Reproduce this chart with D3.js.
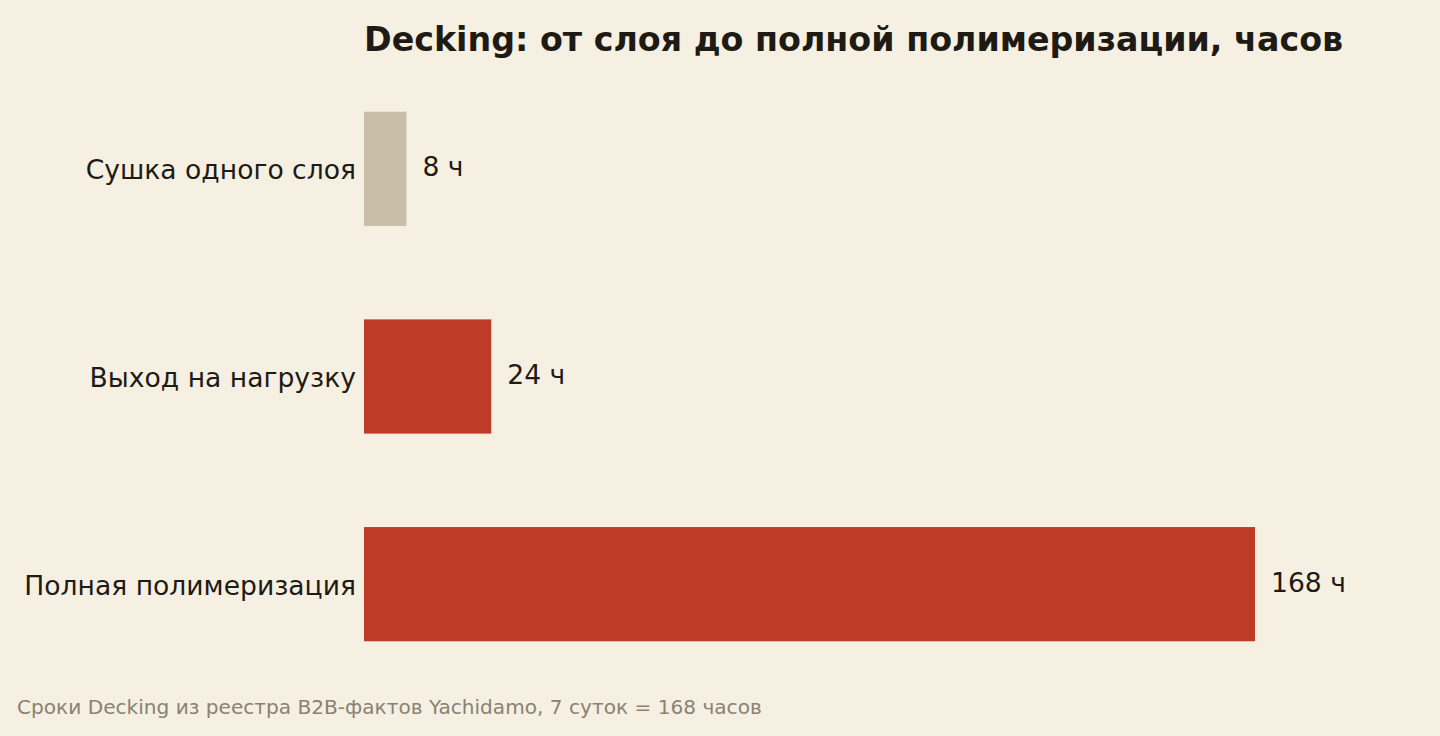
<!DOCTYPE html>
<html>
<head>
<meta charset="utf-8">
<script src="https://cdn.jsdelivr.net/npm/d3@7"></script>
<style>
  html, body { margin: 0; padding: 0; background: #f6f0e3; }
  svg { display: block; font-family: "DejaVu Sans", sans-serif; }
</style>
</head>
<body>
<svg id="chart" width="1440" height="736"></svg>
<script>
// data
const stages = ["Сушка одного слоя", "Выход на нагрузку", "Полная полимеризация"];
const hours = [8, 24, 168];
const barColors = ["#c9bfa9", "#bd3c27", "#bd3c27"];
const titleText = "Decking: от слоя до полной полимеризации, часов";
const noteText = "Сроки Decking из реестра B2B-фактов Yachidamo, 7 суток = 168 часов";

const svg = d3.select("#chart");

const x = d3.scaleLinear()
    .domain([0, 168])
    .range([364, 1255]);

const y = d3.scaleBand()
    .domain(stages)
    .range([65, 688])
    .paddingInner(0.45)
    .paddingOuter(0.225);

// bars
svg.selectAll("rect.bar")
    .data(stages)
    .join("rect")
    .attr("class", "bar")
    .attr("x", x(0))
    .attr("y", d => y(d))
    .attr("width", (d, i) => x(hours[i]) - x(0))
    .attr("height", y.bandwidth())
    .attr("fill", (d, i) => barColors[i]);

// category labels
svg.selectAll("text.cat")
    .data(stages)
    .join("text")
    .attr("class", "cat")
    .attr("x", x(0) - 8)
    .attr("y", d => y(d) + y.bandwidth() / 2 + 3)
    .attr("text-anchor", "end")
    .attr("dominant-baseline", "middle")
    .attr("font-size", 26.6)
    .attr("fill", "#1e1a14")
    .text(d => d);

// value labels
svg.selectAll("text.val")
    .data(stages)
    .join("text")
    .attr("class", "val")
    .attr("x", (d, i) => x(hours[i]) + 16)
    .attr("y", d => y(d) + y.bandwidth() / 2)
    .attr("dominant-baseline", "middle")
    .attr("font-size", 26.6)
    .attr("fill", "#1e1a14")
    .text((d, i) => `${hours[i]} ч`);

// title
svg.append("text")
    .attr("x", 364)
    .attr("y", 51)
    .attr("font-size", 33.3)
    .attr("font-weight", "bold")
    .attr("fill", "#1e1a14")
    .text(titleText);

// footnote
svg.append("text")
    .attr("x", 17)
    .attr("y", 714)
    .attr("font-size", 20.1)
    .attr("fill", "#8a8172")
    .text(noteText);
</script>
</body>
</html>
